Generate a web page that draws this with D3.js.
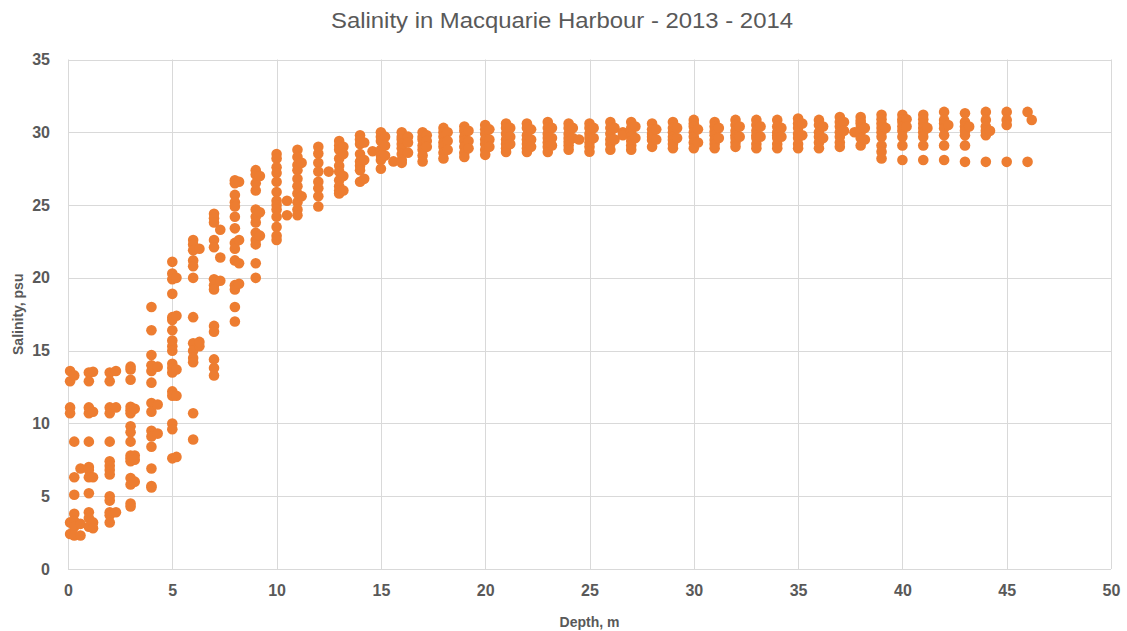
<html>
<head>
<script src="https://cdnjs.cloudflare.com/ajax/libs/d3/7.8.5/d3.min.js"></script>
<style>
  body { margin: 0; background: white; }
  text { font-family: "Liberation Sans", Arial, sans-serif; fill: #595959; }
</style>
</head>
<body></body>
<script>
var screen = {width: 1127, height: 631};
var margin = {left: 68, right: 16, top: 59.5, bottom: 62};

var title = "Salinity in Macquarie Harbour - 2013 - 2014";
var xLabel = "Depth, m";
var yLabel = "Salinity, psu";
var xTicks = [0, 5, 10, 15, 20, 25, 30, 35, 40, 45, 50];
var yTicks = [0, 5, 10, 15, 20, 25, 30, 35];

// depth (m) of each sampled column, and the salinity readings at that depth
var depths = [0.1, 0.3, 0.6, 1.0, 1.2, 2.0, 2.3, 3.0, 3.2, 4.0, 4.3, 5.0, 5.2, 6.0, 6.3,
  7.0, 7.3, 8.0, 8.2, 9.0, 9.2, 10.0, 10.5, 11.0, 11.2, 12.0, 12.5, 13.0, 13.2,
  14.0, 14.2, 14.6, 15.0, 15.2, 15.6, 16.0, 16.3, 17.0, 17.2, 18.0, 18.2, 19.0, 19.2,
  20.0, 20.2, 21.0, 21.2, 22.0, 22.2, 23.0, 23.2, 24.0, 24.2, 24.5, 25.0, 25.2,
  26.0, 26.2, 26.6, 27.0, 27.2, 28.0, 28.2, 29.0, 29.2, 30.0, 30.2, 31.0, 31.2,
  32.0, 32.2, 33.0, 33.2, 34.0, 34.2, 35.0, 35.2, 36.0, 36.2, 37.0, 37.2, 37.7,
  38.0, 38.2, 39.0, 39.2, 40.0, 40.2, 41.0, 41.2, 42.0, 42.2, 43.0, 43.2,
  44.0, 44.2, 45.0, 46.0, 46.2];

var salinity = [
  [13.6, 12.9, 11.1, 10.7, 3.2, 2.4],
  [13.3, 8.75, 6.3, 5.1, 3.8, 3.3, 2.9, 2.3],
  [6.9, 3.1, 2.3],
  [13.5, 12.9, 11.1, 10.7, 8.75, 7.0, 6.8, 6.3, 5.2, 3.9, 3.5, 2.9],
  [13.55, 10.8, 6.3, 3.2, 2.8],
  [13.5, 12.9, 11.1, 10.7, 8.75, 7.4, 7.1, 6.8, 6.5, 5.0, 4.7, 3.9, 3.7, 3.2],
  [13.6, 11.1, 3.9],
  [13.9, 13.7, 13.0, 11.15, 10.9, 10.7, 9.8, 9.4, 8.75, 7.8, 7.6, 7.4, 6.25, 5.8, 4.5, 4.3],
  [11.0, 7.8, 7.5, 6.0],
  [18.0, 16.4, 14.7, 14.0, 13.6, 12.8, 11.4, 10.8, 9.5, 9.1, 8.4, 6.9, 5.7, 5.6],
  [13.9, 11.3, 9.3],
  [21.1, 20.3, 19.9, 18.9, 17.3, 17.1, 16.4, 15.7, 15.3, 15.0, 14.1, 13.8, 13.5, 12.2, 11.9, 10.0, 9.6, 7.6],
  [20.0, 17.4, 13.7, 11.9, 7.7],
  [22.6, 22.3, 21.9, 21.2, 20.8, 20.0, 17.3, 15.5, 15.0, 14.5, 14.2, 10.7, 8.9],
  [22.0, 15.3, 15.6],
  [24.4, 24.1, 23.8, 22.6, 22.1, 19.9, 19.5, 19.2, 16.7, 16.3, 14.4, 13.8, 13.3],
  [23.3, 21.4, 19.8],
  [26.7, 26.5, 25.7, 25.2, 24.9, 24.2, 23.4, 22.4, 22.0, 21.2, 19.5, 19.2, 18.0, 17.0],
  [26.6, 22.6, 21.0, 19.6],
  [27.4, 27.1, 26.5, 26.0, 24.7, 24.2, 23.8, 23.1, 22.6, 22.3, 21.0, 20.0],
  [27.0, 24.5, 22.9],
  [28.5, 28.2, 27.6, 27.2, 26.6, 25.9, 25.3, 25.0, 24.7, 24.2, 23.5, 22.9, 22.6],
  [25.3, 24.3],
  [28.8, 28.3, 27.75, 27.4, 26.8, 26.3, 25.8, 25.2, 24.7, 24.3],
  [27.9, 25.6],
  [29.0, 28.55, 27.9, 27.3, 26.6, 26.15, 25.6, 24.9],
  [27.3],
  [29.4, 29.1, 28.8, 28.2, 27.7, 27.3, 26.7, 26.3, 26.0, 25.8],
  [29.0, 28.5, 27.0, 26.0],
  [29.8, 29.5, 29.2, 28.5, 28.0, 27.7, 27.4, 26.6],
  [29.3, 28.1, 26.8],
  [28.7],
  [30.0, 29.7, 29.4, 28.8, 28.4, 28.1, 27.5],
  [29.7, 29.1, 28.4],
  [28.0],
  [30.0, 29.7, 29.5, 29.2, 28.9, 28.5, 28.1, 27.9],
  [29.7, 29.3, 28.6],
  [30.0, 29.7, 29.5, 29.1, 28.8, 28.4, 28.0],
  [29.8, 29.4, 29.0],
  [30.3, 30.0, 29.7, 29.3, 29.0, 28.6, 28.2],
  [30.0, 29.4, 28.8],
  [30.4, 30.1, 29.7, 29.4, 29.0, 28.6, 28.3],
  [30.1, 29.4, 28.9],
  [30.5, 30.2, 29.9, 29.5, 29.2, 28.8, 28.45],
  [30.2, 29.5, 29.0],
  [30.6, 30.3, 29.9, 29.5, 29.2, 28.9, 28.65],
  [30.3, 29.7, 29.2],
  [30.6, 30.3, 29.8, 29.5, 29.2, 28.9, 28.65],
  [30.2, 29.5, 29.0],
  [30.7, 30.3, 29.9, 29.6, 29.3, 29.0, 28.65],
  [30.3, 29.6, 29.1],
  [30.6, 30.3, 29.9, 29.6, 29.35, 29.1, 28.8],
  [30.3, 29.6],
  [29.5],
  [30.6, 30.3, 29.9, 29.6, 29.3, 29.0, 28.66],
  [30.3, 29.6],
  [30.7, 30.3, 29.9, 29.5, 29.2, 28.8],
  [30.3, 29.5],
  [30.0, 29.8],
  [30.7, 30.3, 30.0, 29.7, 29.4, 29.1, 28.8],
  [30.4, 29.6],
  [30.6, 30.2, 29.9, 29.7, 29.47, 29.0],
  [30.2, 29.5],
  [30.7, 30.3, 30.0, 29.7, 29.47, 29.2, 28.9],
  [30.3, 29.6],
  [30.85, 30.6, 30.4, 30.0, 29.7, 29.3, 28.9],
  [30.2, 29.3],
  [30.7, 30.4, 30.05, 29.8, 29.47, 29.2, 28.9],
  [30.3, 29.6],
  [30.85, 30.5, 30.1, 29.8, 29.6, 29.3, 29.0],
  [30.4, 29.7],
  [30.85, 30.5, 30.1, 29.8, 29.6, 29.2, 28.9],
  [30.4, 29.7],
  [30.85, 30.4, 30.0, 29.8, 29.6, 29.2, 28.9],
  [30.3, 29.7],
  [30.95, 30.6, 30.3, 29.9, 29.6, 29.2, 28.9],
  [30.6, 29.8],
  [30.85, 30.5, 30.0, 29.7, 29.3, 28.9],
  [30.4, 29.6],
  [31.05, 30.7, 30.4, 30.0, 29.7, 29.3, 29.0],
  [30.7, 30.1],
  [30.0],
  [31.05, 30.8, 30.6, 30.3, 30.0, 29.6, 29.1],
  [30.3, 29.5],
  [31.2, 30.9, 30.6, 30.3, 30.0, 29.7, 29.1, 28.66, 28.2],
  [30.3],
  [31.2, 30.9, 30.7, 30.4, 30.1, 29.7, 29.1, 28.1],
  [30.9, 30.4],
  [31.2, 30.9, 30.6, 30.3, 30.0, 29.7, 29.1, 28.1],
  [30.3],
  [31.4, 30.85, 30.6, 30.27, 29.8, 29.1, 28.1],
  [30.5],
  [31.3, 30.7, 30.4, 30.1, 29.8, 29.1, 27.97],
  [30.4],
  [31.4, 30.85, 30.4, 30.1, 29.8, 27.97],
  [30.1],
  [31.4, 30.85, 30.5, 27.97],
  [31.4, 27.97],
  [30.85]
];

var points = [];
depths.forEach(function (d, i) {
  salinity[i].forEach(function (s) { points.push({x: d, y: s}); });
});

var svg = d3.select("body").append("svg")
  .attr("width", screen.width)
  .attr("height", screen.height);

var x = d3.scaleLinear().domain([0, 50]).range([margin.left, screen.width - margin.right]);
var y = d3.scaleLinear().domain([0, 35]).range([screen.height - margin.bottom, margin.top]);

// gridlines
svg.append("g").selectAll("line.h").data(yTicks).enter().append("line")
  .attr("x1", x(0)).attr("x2", x(50))
  .attr("y1", function (d) { return Math.round(y(d)) + 0.5; })
  .attr("y2", function (d) { return Math.round(y(d)) + 0.5; })
  .attr("stroke", "#d9d9d9").attr("stroke-width", 1);
svg.append("g").selectAll("line.v").data(xTicks).enter().append("line")
  .attr("y1", y(0)).attr("y2", y(35))
  .attr("x1", function (d) { return Math.round(x(d)) + 0.5; })
  .attr("x2", function (d) { return Math.round(x(d)) + 0.5; })
  .attr("stroke", "#d9d9d9").attr("stroke-width", 1);

// axes (labels only, Excel style)
var xAxis = svg.append("g")
  .attr("transform", "translate(0," + (y(0) + 8) + ")")
  .call(d3.axisBottom(x).tickValues(xTicks).tickSize(0).tickPadding(8));
var yAxis = svg.append("g")
  .attr("transform", "translate(" + (x(0) - 10) + ",0)")
  .call(d3.axisLeft(y).tickValues(yTicks).tickSize(0).tickPadding(8));
[xAxis, yAxis].forEach(function (g) {
  g.select(".domain").remove();
  g.selectAll("text")
    .attr("font-family", "Liberation Sans, Arial, sans-serif")
    .attr("font-size", 16).attr("font-weight", "bold").attr("fill", "#595959");
});

// points
svg.append("g").selectAll("circle").data(points).enter().append("circle")
  .attr("cx", function (d) { return x(d.x); })
  .attr("cy", function (d) { return y(d.y); })
  .attr("r", 5.3)
  .attr("fill", "#ed7d31");

// titles
svg.append("text")
  .attr("x", 562).attr("y", 28)
  .attr("text-anchor", "middle")
  .attr("font-size", 22)
  .attr("textLength", 462).attr("lengthAdjust", "spacingAndGlyphs")
  .text(title);
svg.append("text")
  .attr("x", x(25)).attr("y", 627)
  .attr("text-anchor", "middle")
  .attr("font-size", 14).attr("font-weight", "bold")
  .text(xLabel);
svg.append("text")
  .attr("transform", "translate(23," + y(17.5) + ") rotate(-90)")
  .attr("text-anchor", "middle")
  .attr("font-size", 14).attr("font-weight", "bold")
  .text(yLabel);
</script>
</html>
